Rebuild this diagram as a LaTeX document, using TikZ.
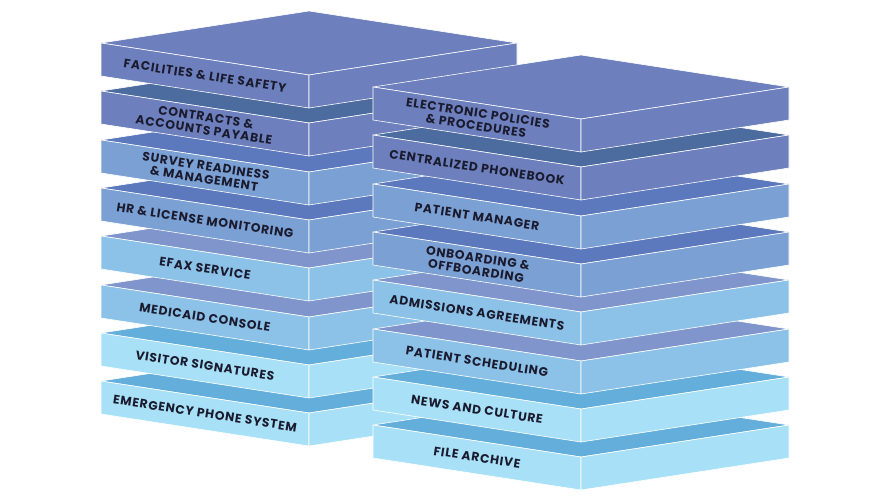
\documentclass[tikz,border=0pt]{standalone}
\usepackage{fontspec}
\setmainfont{Poppins}[LetterSpace=6]
\definecolor{sideA}{HTML}{6D80BD}
\definecolor{topA}{HTML}{4C6B9E}
\definecolor{sideB}{HTML}{7BA0D3}
\definecolor{topB}{HTML}{5C79BD}
\definecolor{sideC}{HTML}{8CC2E8}
\definecolor{topC}{HTML}{7F95CB}
\definecolor{sideD}{HTML}{A8E1F7}
\definecolor{topD}{HTML}{64AEDC}
\definecolor{labelink}{HTML}{1B1B2F}
\tikzset{
  face/.style={draw=white,line width=0.6pt,line join=round},
  slabtext/.style={text=labelink,font=\bfseries\fontsize{12.3}{13}\selectfont,
    align=center,rotate=-8.75,inner sep=0pt}
}
% slab: name, front x, front y, side colour, top colour, label
\newcommand{\slab}[6]{%
  \coordinate (#1f) at (#2,#3);
  \fill[face,fill=#5] (#1f) -- ++(-208,-32) -- ++(208,-32) -- ++(208,32) -- cycle;
  \fill[face,fill=#4] (#1f) -- ++(-208,-32) -- ++(0,33) -- ++(208,32) -- cycle;
  \fill[face,fill=#4] (#1f) -- ++(208,-32) -- ++(0,33) -- ++(-208,32) -- cycle;
  \node[slabtext] (#1) at ([shift={(-104,0.5)}]#1f) {#6};
}
\begin{document}
\begin{tikzpicture}[x=1pt,y=-1pt]
\useasboundingbox (0,0) rectangle (890,500);
% left stack
\slab{emergency}{309}{413}{sideD}{topD}{EMERGENCY PHONE SYSTEM}
\slab{visitor}{309}{365}{sideD}{topD}{VISITOR SIGNATURES}
\slab{medicaid}{309}{317}{sideC}{topC}{MEDICAID CONSOLE}
\slab{efax}{309}{268}{sideC}{topC}{EFAX SERVICE}
\slab{hr}{309}{220}{sideB}{topB}{HR \& LICENSE MONITORING}
\slab{survey}{309}{172}{sideB}{topB}{SURVEY READINESS\\\& MANAGEMENT}
\slab{contracts}{309}{123}{sideA}{topA}{CONTRACTS \&\\ACCOUNTS PAYABLE}
\slab{facilities}{309}{75}{sideA}{sideA}{FACILITIES \& LIFE SAFETY}
% right stack
\slab{archive}{581}{457}{sideD}{topD}{FILE ARCHIVE}
\slab{news}{581}{409}{sideD}{topD}{NEWS AND CULTURE}
\slab{scheduling}{581}{361}{sideC}{topC}{PATIENT SCHEDULING}
\slab{admissions}{581}{312}{sideC}{topC}{ADMISSIONS AGREEMENTS}
\slab{onboarding}{581}{264}{sideB}{topB}{ONBOARDING \&\\OFFBOARDING}
\slab{manager}{581}{216}{sideB}{topB}{PATIENT MANAGER}
\slab{phonebook}{581}{167}{sideA}{topA}{CENTRALIZED PHONEBOOK}
\slab{policies}{581}{119}{sideA}{sideA}{ELECTRONIC POLICIES\\\& PROCEDURES}
\end{tikzpicture}
\end{document}
